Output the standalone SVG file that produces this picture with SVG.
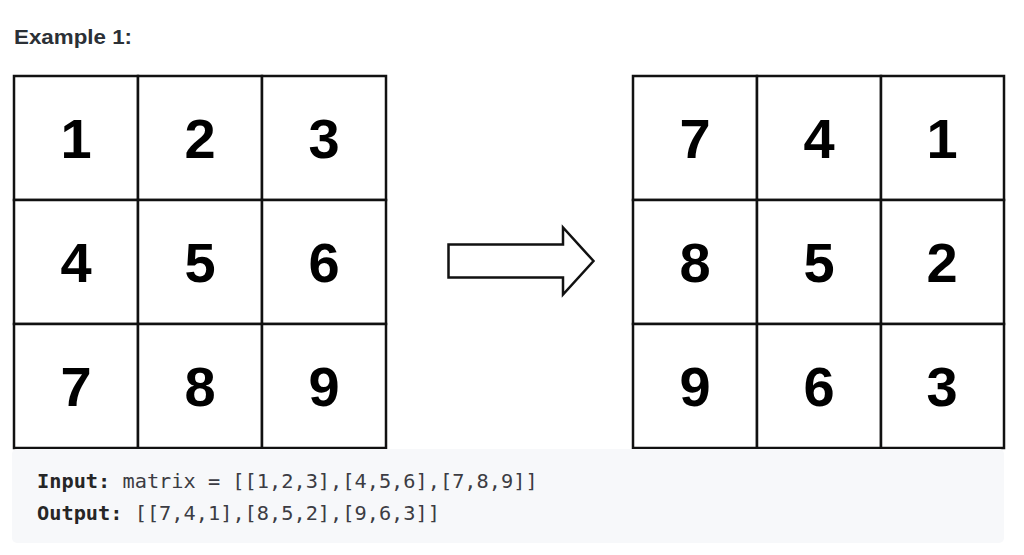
<svg xmlns="http://www.w3.org/2000/svg" width="1024" height="555" viewBox="0 0 1024 555">
<style>
.cell{fill:#fff;stroke:#111;stroke-width:2.5}
.num{font-family:"Liberation Sans",Arial,sans-serif;font-weight:bold;font-size:56px;fill:#000;text-anchor:middle}
.code{font-family:"DejaVu Sans Mono","Liberation Mono",monospace;font-size:20.3px;fill:#3c3c43}
.codeb{font-weight:bold;fill:#262626}
</style>
<rect width="1024" height="555" fill="#fff"/>
<text x="14" y="44" font-family="Liberation Sans,Arial,sans-serif" font-weight="bold" font-size="20" fill="#2b3036" textLength="118" lengthAdjust="spacingAndGlyphs">Example 1:</text>
<g id="input-matrix">
<rect class="cell" x="14" y="76" width="124" height="124"/>
<rect class="cell" x="138" y="76" width="124" height="124"/>
<rect class="cell" x="262" y="76" width="124" height="124"/>
<rect class="cell" x="14" y="200" width="124" height="124"/>
<rect class="cell" x="138" y="200" width="124" height="124"/>
<rect class="cell" x="262" y="200" width="124" height="124"/>
<rect class="cell" x="14" y="324" width="124" height="124"/>
<rect class="cell" x="138" y="324" width="124" height="124"/>
<rect class="cell" x="262" y="324" width="124" height="124"/>
<text class="num" x="76" y="158">1</text>
<text class="num" x="200" y="158">2</text>
<text class="num" x="324" y="158">3</text>
<text class="num" x="76" y="282">4</text>
<text class="num" x="200" y="282">5</text>
<text class="num" x="324" y="282">6</text>
<text class="num" x="76" y="406">7</text>
<text class="num" x="200" y="406">8</text>
<text class="num" x="324" y="406">9</text>
</g>
<g id="output-matrix">
<rect class="cell" x="633" y="76" width="124" height="124"/>
<rect class="cell" x="757" y="76" width="124" height="124"/>
<rect class="cell" x="881" y="76" width="123" height="124"/>
<rect class="cell" x="633" y="200" width="124" height="124"/>
<rect class="cell" x="757" y="200" width="124" height="124"/>
<rect class="cell" x="881" y="200" width="123" height="124"/>
<rect class="cell" x="633" y="324" width="124" height="124"/>
<rect class="cell" x="757" y="324" width="124" height="124"/>
<rect class="cell" x="881" y="324" width="123" height="124"/>
<text class="num" x="695" y="158">7</text>
<text class="num" x="819" y="158">4</text>
<text class="num" x="942" y="158">1</text>
<text class="num" x="695" y="282">8</text>
<text class="num" x="819" y="282">5</text>
<text class="num" x="942" y="282">2</text>
<text class="num" x="695" y="406">9</text>
<text class="num" x="819" y="406">6</text>
<text class="num" x="942" y="406">3</text>
</g>
<g id="connectors">
<polygon points="448.5,244.5 563,244.5 563,227.5 593.5,261 563,294.5 563,277.5 448.5,277.5" fill="#fff" stroke="#111" stroke-width="2.5" stroke-linejoin="miter"/>
</g>
<g id="code-block">
<rect x="12" y="449" width="992" height="94" rx="5" fill="#f7f8fa"/>
<text class="code" x="37" y="488"><tspan class="codeb">Input:</tspan> matrix = [[1,2,3],[4,5,6],[7,8,9]]</text>
<text class="code" x="37" y="520"><tspan class="codeb">Output:</tspan> [[7,4,1],[8,5,2],[9,6,3]]</text>
</g>
</svg>
